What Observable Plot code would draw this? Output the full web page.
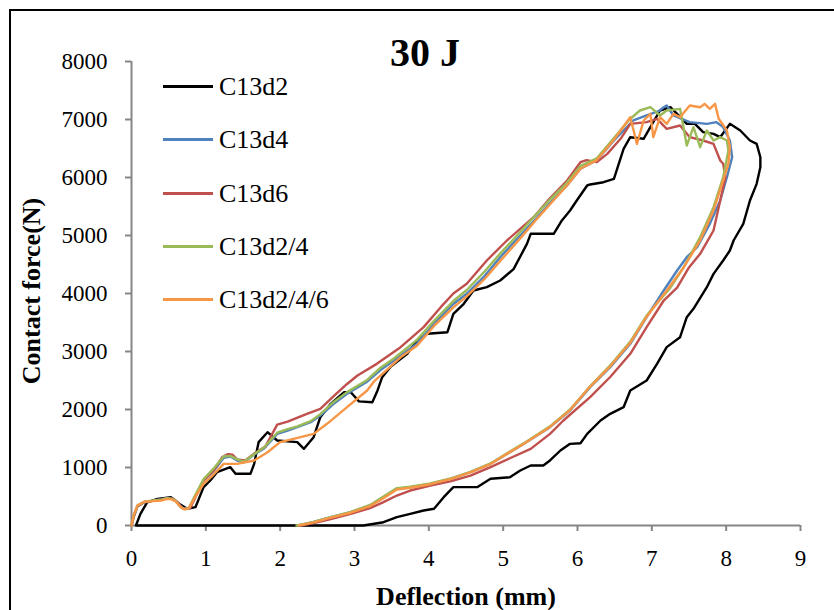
<!DOCTYPE html>
<html>
<head>
<meta charset="utf-8">
<script src="https://cdn.jsdelivr.net/npm/d3@7"></script>
<script src="https://cdn.jsdelivr.net/npm/@observablehq/plot@0.6"></script>
<style>
  html, body { margin: 0; padding: 0; background: #fff; overflow: hidden; }
  #wrap { position: relative; width: 834px; height: 610px; overflow: hidden;
          font-family: "Liberation Serif", "Times New Roman", serif; color: #000; }
  #frame { position: absolute; left: 9px; top: 9px; width: 900px; height: 700px;
           border: 2px solid #000; box-sizing: border-box; }
  #chart { position: absolute; left: 0; top: 0; }
  .txt { position: absolute; line-height: 1; white-space: nowrap; }
  #title { left: 325px; width: 200px; text-align: center; top: 33px; font-size: 40px; font-weight: bold; }
  #xlabel { left: 366px; width: 200px; text-align: center; top: 584px; font-size: 26px; font-weight: bold; }
  #ylabel { left: 32px; top: 291px; font-size: 26px; font-weight: bold;
            transform: translate(-50%, -50%) rotate(-90deg); }
  .legline { position: absolute; left: 163px; width: 50px; height: 3px; }
  .legtxt { position: absolute; left: 219px; font-size: 26px; line-height: 1; white-space: nowrap; }
</style>
</head>
<body>
<div id="wrap">
  <div id="chart"></div>
  <div id="frame"></div>
  <div id="title" class="txt">30 J</div>
  <div id="xlabel" class="txt">Deflection (mm)</div>
  <div id="ylabel" class="txt">Contact force(N)</div>
  <div id="legend"></div>
</div>
<script>
// ---------- data (deflection mm, contact force N) ----------
const seriesNames = ["C13d2", "C13d4", "C13d6", "C13d2/4", "C13d2/4/6"];
const seriesColors = ["#000000", "#4F81BD", "#C0504D", "#9BBB59", "#F79646"];
const xTicks = [0, 1, 2, 3, 4, 5, 6, 7, 8, 9];
const yTicks = [0, 1000, 2000, 3000, 4000, 5000, 6000, 7000, 8000];

const C13d2 = [[0.06,0],[0.12,200],[0.21,400],[0.35,460],[0.53,488],[0.64,374],[0.75,288],[0.86,316],[0.97,661],[1.06,776],[1.15,919],[1.33,1006],[1.40,891],[1.60,891],[1.65,1063],[1.71,1437],[1.83,1609],[1.96,1466],[2.23,1437],[2.32,1322],[2.45,1523],[2.54,1868],[2.68,2098],[2.86,2300],[2.95,2298],[3.06,2140],[3.24,2126],[3.31,2328],[3.37,2550],[3.48,2730],[3.71,2960],[3.84,3190],[3.98,3305],[4.25,3333],[4.33,3649],[4.47,3822],[4.60,4052],[4.78,4109],[4.96,4224],[5.14,4420],[5.32,4856],[5.37,5029],[5.68,5029],[5.79,5259],[5.90,5431],[5.99,5603],[6.13,5862],[6.17,5880],[6.35,5919],[6.49,5977],[6.62,6494],[6.71,6695],[6.89,6667],[6.98,6868],[7.11,7155],[7.25,7212],[7.34,7098],[7.47,6925],[7.58,6925],[7.69,6782],[7.83,6753],[7.92,6695],[8.05,6925],[8.19,6810],[8.32,6638],[8.41,6580],[8.46,6350],[8.46,6178],[8.41,5891],[8.32,5603],[8.23,5201],[8.10,4914],[8.05,4741],[7.96,4569],[7.83,4339],[7.74,4109],[7.56,3736],[7.47,3592],[7.38,3247],[7.20,3075],[7.07,2787],[6.93,2500],[6.71,2328],[6.62,2040],[6.44,1925],[6.31,1810],[6.13,1580],[6.04,1419],[5.90,1408],[5.77,1293],[5.63,1121],[5.54,1034],[5.37,1034],[5.23,948],[5.09,833],[4.83,805],[4.65,661],[4.51,661],[4.33,661],[4.20,488],[4.07,288],[3.93,259],[3.75,201],[3.57,143],[3.39,57],[3.12,0],[3.04,0],[0.06,0]];

const C13d4 = [[0,0],[0.03,150],[0.08,330],[0.17,400],[0.30,430],[0.40,450],[0.48,477],[0.54,465],[0.59,430],[0.66,330],[0.71,288],[0.77,290],[0.86,517],[0.97,776],[1.11,948],[1.24,1167],[1.33,1190],[1.42,1120],[1.51,1091],[1.65,1224],[1.78,1322],[1.96,1580],[2.10,1638],[2.23,1695],[2.41,1781],[2.54,1897],[2.72,2098],[2.90,2271],[3.17,2480],[3.35,2680],[3.53,2845],[3.84,3133],[4.07,3480],[4.33,3820],[4.51,3995],[4.75,4300],[4.96,4626],[5.23,5000],[5.45,5300],[5.63,5560],[5.85,5850],[6.04,6150],[6.26,6300],[6.49,6638],[6.75,6983],[6.93,7069],[7.10,7150],[7.16,7212],[7.20,7241],[7.29,7069],[7.51,6954],[7.74,6925],[7.87,6954],[7.96,6868],[8.05,6638],[8.08,6350],[8.01,6005],[7.92,5603],[7.78,5201],[7.61,4799],[7.47,4626],[7.34,4397],[7.16,4052],[6.93,3592],[6.71,3133],[6.44,2730],[6.17,2385],[5.90,1983],[5.63,1695],[5.28,1408],[5.09,1264],[4.83,1063],[4.56,919],[4.29,805],[4.02,718],[3.75,661],[3.57,632],[3.39,488],[3.21,345],[2.95,230],[2.68,143],[2.45,60],[2.25,0]];

const C13d6 = [[0,0],[0.03,150],[0.08,330],[0.17,400],[0.30,430],[0.40,445],[0.48,470],[0.56,460],[0.62,400],[0.68,300],[0.73,285],[0.79,300],[0.88,540],[0.97,776],[1.11,960],[1.22,1180],[1.30,1230],[1.36,1220],[1.42,1140],[1.53,1120],[1.65,1240],[1.80,1360],[1.96,1740],[2.10,1790],[2.36,1925],[2.54,2011],[2.72,2230],[2.90,2440],[3.04,2586],[3.30,2787],[3.62,3075],[3.93,3420],[4.16,3764],[4.33,4000],[4.51,4167],[4.78,4569],[5.05,4914],[5.41,5316],[5.60,5600],[5.86,5948],[6.04,6264],[6.12,6300],[6.26,6264],[6.40,6408],[6.58,6667],[6.71,6925],[6.93,6954],[7.07,7012],[7.20,6839],[7.38,6897],[7.51,6695],[7.69,6638],[7.83,6580],[7.92,6293],[7.96,6236],[7.99,6005],[7.92,5603],[7.83,5086],[7.65,4684],[7.50,4450],[7.34,4100],[7.16,3879],[6.93,3420],[6.71,2960],[6.44,2560],[6.17,2213],[5.81,1810],[5.63,1580],[5.37,1322],[5.09,1160],[4.83,1006],[4.56,860],[4.29,760],[4.02,690],[3.75,603],[3.57,517],[3.39,402],[3.21,300],[2.95,200],[2.68,110],[2.45,40],[2.28,0]];

const C13d2_4 = [[0,0],[0.03,170],[0.08,340],[0.17,410],[0.30,430],[0.40,445],[0.48,470],[0.54,460],[0.59,430],[0.66,320],[0.71,285],[0.77,295],[0.86,530],[0.97,800],[1.11,990],[1.24,1190],[1.33,1200],[1.42,1140],[1.51,1100],[1.65,1230],[1.78,1340],[1.96,1600],[2.10,1660],[2.23,1710],[2.41,1800],[2.54,1920],[2.72,2130],[2.90,2300],[3.17,2510],[3.35,2720],[3.53,2880],[3.84,3200],[4.07,3530],[4.33,3870],[4.51,4060],[4.75,4380],[4.96,4690],[5.23,5060],[5.45,5370],[5.63,5620],[5.85,5900],[6.04,6200],[6.26,6330],[6.49,6680],[6.70,7000],[6.84,7155],[6.98,7212],[7.11,7069],[7.20,7155],[7.38,7184],[7.47,6552],[7.56,6868],[7.65,6523],[7.74,6810],[7.83,6638],[7.92,6695],[8.01,6638],[8.03,6466],[7.96,6005],[7.83,5488],[7.65,4971],[7.43,4454],[7.25,4100],[6.93,3620],[6.71,3170],[6.44,2760],[6.17,2400],[5.90,2000],[5.63,1710],[5.28,1420],[5.09,1275],[4.83,1070],[4.56,925],[4.29,810],[4.02,725],[3.75,670],[3.57,645],[3.39,500],[3.21,355],[2.95,235],[2.68,145],[2.45,60],[2.22,0]];

const C13d2_4_6 = [[0,0],[0.03,180],[0.08,350],[0.17,410],[0.30,420],[0.40,430],[0.48,460],[0.54,450],[0.59,420],[0.66,320],[0.71,280],[0.77,295],[0.86,500],[0.97,720],[1.07,833],[1.24,1063],[1.42,1063],[1.65,1121],[1.83,1264],[2.00,1437],[2.18,1494],[2.45,1580],[2.63,1753],[2.90,2040],[3.17,2328],[3.26,2480],[3.62,2900],[3.84,3100],[4.07,3440],[4.33,3760],[4.51,3950],[4.75,4250],[4.96,4560],[5.23,4950],[5.45,5280],[5.63,5540],[5.85,5850],[6.04,6150],[6.26,6300],[6.49,6650],[6.71,7040],[6.80,6580],[6.89,6983],[6.98,7098],[7.02,6695],[7.11,7040],[7.20,6925],[7.29,7098],[7.38,7040],[7.51,7241],[7.65,7212],[7.71,7270],[7.78,7184],[7.85,7270],[7.90,7012],[8.01,6810],[8.05,6523],[8.03,6236],[7.96,5948],[7.83,5431],[7.65,4914],[7.43,4454],[7.20,4052],[6.93,3600],[6.71,3150],[6.44,2745],[6.17,2395],[5.90,1990],[5.63,1700],[5.28,1410],[5.09,1265],[4.83,1060],[4.56,915],[4.29,800],[4.02,712],[3.75,650],[3.57,620],[3.39,470],[3.21,335],[2.95,220],[2.68,135],[2.45,55],[2.25,0]];

const seriesData = [C13d2, C13d4, C13d6, C13d2_4, C13d2_4_6];

// ---------- build table ----------
const rows = [];
seriesData.forEach((s, i) => s.forEach(([x, y]) => rows.push({series: seriesNames[i], x, y})));

const chart = Plot.plot({
  width: 834,
  height: 610,
  marginLeft: 131,
  marginRight: 34,
  marginTop: 61,
  marginBottom: 85,
  style: {fontFamily: '"Liberation Serif", "Times New Roman", serif', fontSize: "23px", color: "#000", background: "transparent", overflow: "visible"},
  x: {domain: [0, 9]},
  y: {domain: [0, 8000]},
  color: {domain: seriesNames, range: seriesColors},
  marks: [
    Plot.ruleY([0], {stroke: "#868686", strokeWidth: 2}),
    Plot.ruleX([0], {stroke: "#868686", strokeWidth: 2}),
    Plot.axisX({ticks: xTicks, tickSize: 6, tickPadding: 18, stroke: "#868686", strokeWidth: 2, fill: "#000", label: null, tickFormat: d => String(d)}),
    Plot.axisY({ticks: yTicks, tickSize: 6, tickPadding: 18, stroke: "#868686", strokeWidth: 2, fill: "#000", label: null, tickFormat: d => String(d)}),
    Plot.line(rows, {x: "x", y: "y", z: "series", stroke: "series", strokeWidth: 2.4, strokeLinejoin: "round", strokeLinecap: "round", curve: "linear"})
  ]
});
document.getElementById("chart").appendChild(chart);

// ---------- legend ----------
const legend = document.getElementById("legend");
const rowY = [86, 139, 193, 246, 299];
seriesNames.forEach((name, i) => {
  const ln = document.createElement("div");
  ln.className = "legline";
  ln.style.top = (rowY[i] - 1.5) + "px";
  ln.style.background = seriesColors[i];
  legend.appendChild(ln);
  const t = document.createElement("div");
  t.className = "legtxt";
  t.style.top = (rowY[i] - 12) + "px";
  t.textContent = name;
  legend.appendChild(t);
});
</script>
</body>
</html>
